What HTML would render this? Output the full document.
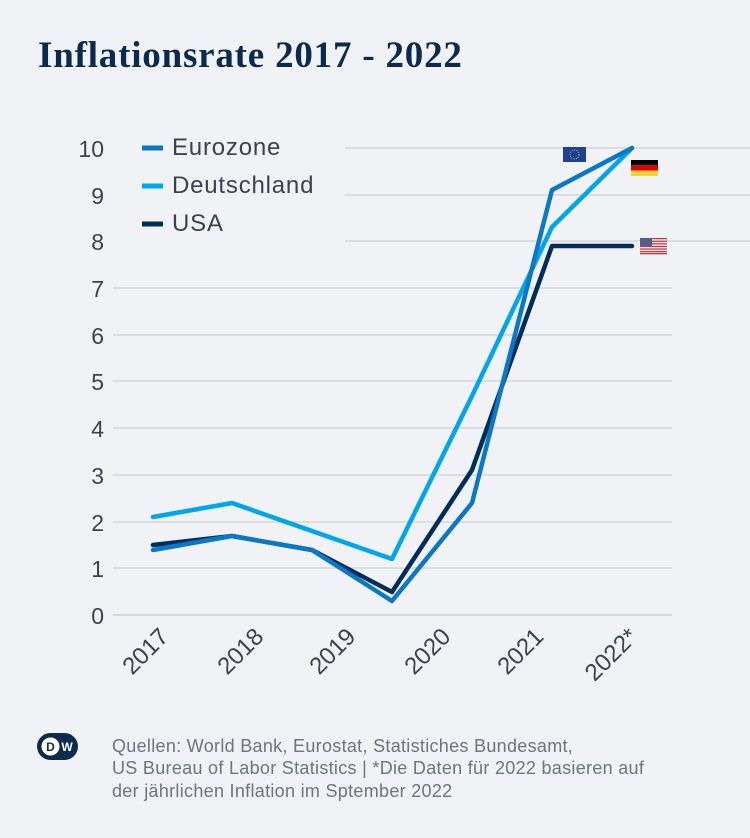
<!DOCTYPE html>
<html><head><meta charset="utf-8"><style>
body{margin:0;background:#f0f2f5;}
svg{display:block;font-family:"Liberation Sans",sans-serif;}
</style></head><body>
<svg width="750" height="838" viewBox="0 0 750 838">
<rect width="750" height="838" fill="#f0f2f5"/>
<text x="38" y="67" font-family="Liberation Serif,serif" font-weight="bold" font-size="37" letter-spacing="0.8" fill="#0b2a4d">Inflationsrate 2017 - 2022</text>
<g stroke="#d3d6db" stroke-width="1.5">
<line x1="345" y1="148" x2="750" y2="148"/>
<line x1="345" y1="195" x2="750" y2="195"/>
<line x1="345" y1="241" x2="750" y2="241"/>
<line x1="113" y1="288" x2="672" y2="288"/>
<line x1="113" y1="335" x2="672" y2="335"/>
<line x1="113" y1="381" x2="672" y2="381"/>
<line x1="113" y1="428" x2="672" y2="428"/>
<line x1="113" y1="475" x2="672" y2="475"/>
<line x1="113" y1="522" x2="672" y2="522"/>
<line x1="113" y1="568" x2="672" y2="568"/>
<line x1="113" y1="615" x2="672" y2="615" stroke-width="2"/>
</g>
<g font-size="23" fill="#3a434d" text-anchor="end">
<text x="104" y="157">10</text><text x="104" y="204">9</text><text x="104" y="250">8</text>
<text x="104" y="297">7</text><text x="104" y="344">6</text><text x="104" y="390">5</text>
<text x="104" y="437">4</text><text x="104" y="484">3</text><text x="104" y="531">2</text>
<text x="104" y="577">1</text><text x="104" y="624">0</text>
</g>
<g font-size="24" fill="#3a434d" text-anchor="end">
<text transform="translate(170,638) rotate(-45)">2017</text>
<text transform="translate(265,638) rotate(-45)">2018</text>
<text transform="translate(357,638) rotate(-45)">2019</text>
<text transform="translate(452,638) rotate(-45)">2020</text>
<text transform="translate(545,638) rotate(-45)">2021</text>
<text transform="translate(639,638) rotate(-45)">2022*</text>
</g>
<g fill="none" stroke-width="4.5" stroke-linejoin="round" stroke-linecap="round">
<polyline stroke="#00a5f0" points="153,517 232,503 312,531 392,559 472,396 552,227 632,148"/>
<polyline stroke="#002d5a" points="153,545 232,536 312,550 392,592 472,470 552,246 632,246"/>
<polyline stroke="#0a78c8" points="153,550 232,536 312,550 392,601 472,503 552,190 632,148"/>
</g>
<g font-size="24" fill="#3a434d" letter-spacing="0.8">
<line x1="142" y1="148" x2="163" y2="148" stroke="#0a78c8" stroke-width="5"/><text x="172" y="155">Eurozone</text>
<line x1="142" y1="186" x2="163" y2="186" stroke="#00a5f0" stroke-width="5"/><text x="172" y="193">Deutschland</text>
<line x1="142" y1="224" x2="163" y2="224" stroke="#002d5a" stroke-width="5"/><text x="172" y="231">USA</text>
</g>
<rect x="563" y="147" width="23" height="15" fill="#1d3f94"/>
<circle cx="574.5" cy="154.5" r="4.5" fill="none" stroke="#d8c830" stroke-width="1" stroke-dasharray="1 1.3"/>
<rect x="631" y="160" width="27" height="5.3" fill="#000"/>
<rect x="631" y="165.3" width="27" height="5.3" fill="#dd0000"/>
<rect x="631" y="170.6" width="27" height="5.3" fill="#f5d223"/>
<rect x="640" y="238" width="27" height="16" fill="#fff"/>
<g fill="#c8323c"><rect x="640" y="238" width="27" height="1.3"/><rect x="640" y="240.6" width="27" height="1.3"/><rect x="640" y="243.2" width="27" height="1.3"/><rect x="640" y="245.8" width="27" height="1.3"/><rect x="640" y="248.4" width="27" height="1.3"/><rect x="640" y="251" width="27" height="1.3"/><rect x="640" y="253" width="27" height="1.3"/></g>
<rect x="640" y="238" width="12" height="8" fill="#525f8a"/>
<rect x="37" y="733" width="41" height="27" rx="13.5" fill="#0b2a4d"/>
<circle cx="50.5" cy="746.5" r="10" fill="#fff"/>
<circle cx="50.5" cy="746.5" r="10" fill="none" stroke="#0b2a4d" stroke-width="2"/>
<text x="50.5" y="751" font-size="12" font-weight="bold" fill="#0b2a4d" text-anchor="middle">D</text>
<text x="67" y="751" font-size="12" font-weight="bold" fill="#fff" text-anchor="middle">W</text>
<g font-size="18" fill="#6b7480" letter-spacing="0.3">
<text x="112" y="752">Quellen: World Bank, Eurostat, Statistiches Bundesamt,</text>
<text x="112" y="774">US Bureau of Labor Statistics | *Die Daten für 2022 basieren auf</text>
<text x="112" y="797">der jährlichen Inflation im Sptember 2022</text>
</g>
</svg>
</body></html>
